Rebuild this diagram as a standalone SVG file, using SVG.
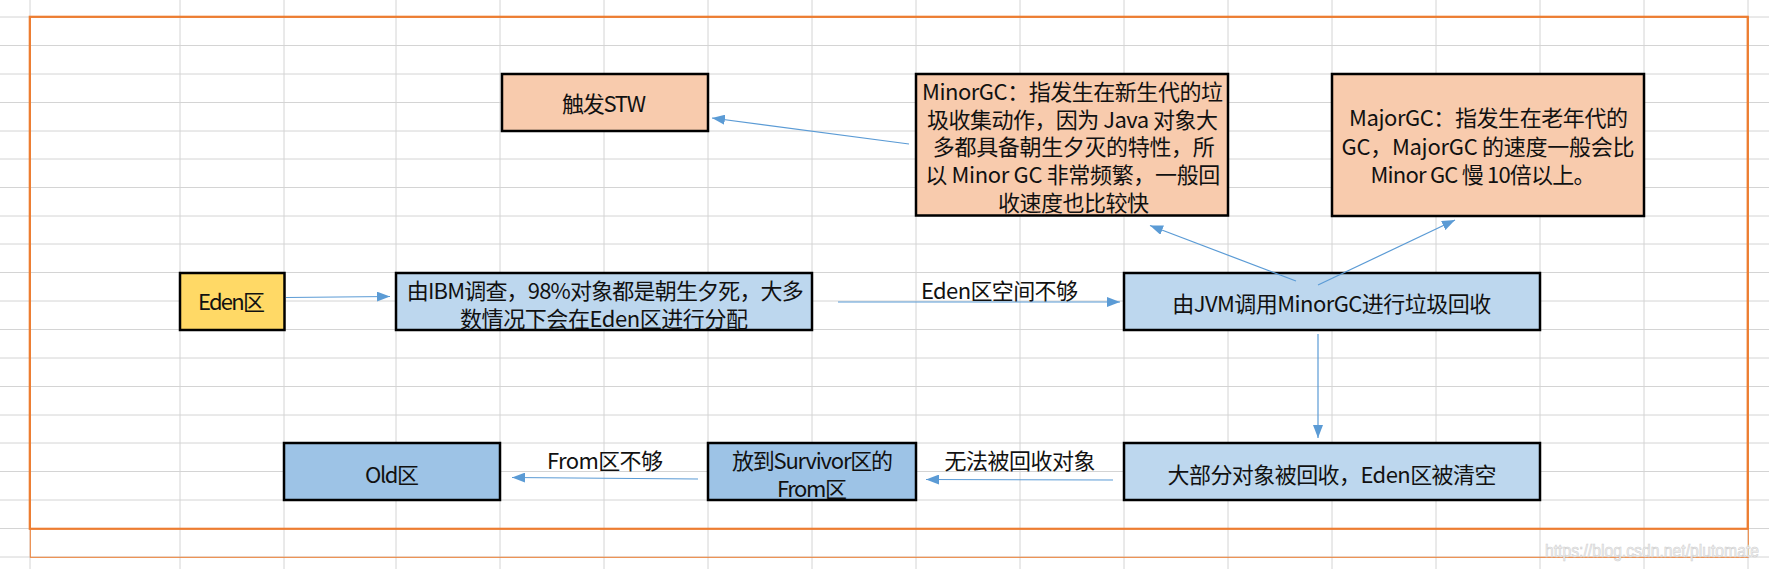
<svg xmlns="http://www.w3.org/2000/svg" width="1769" height="569" viewBox="0 0 1769 569">
<defs>
<style>
.grid line{stroke:#d4d4d4;stroke-width:1}
.box{stroke:#000;stroke-width:2.5}
.peach{fill:#F8CBAD}
.lblue{fill:#BDD7EE}
.mblue{fill:#9DC3E6}
.gold{fill:#FFD966}
.t{font-family:"Noto Sans CJK SC","Noto Sans",sans-serif;font-size:22px;fill:#111;text-anchor:middle}
.conn line{stroke:#5B9BD5;stroke-width:1.2;fill:none;marker-end:url(#ah)}
</style>
<marker id="ah" viewBox="0 0 13 10" refX="13" refY="5" markerWidth="13" markerHeight="10" markerUnits="userSpaceOnUse" orient="auto">
<path d="M0,0 L13,5 L0,10 z" fill="#5B9BD5"/>
</marker>
</defs>
<rect width="1769" height="569" fill="#fff"/>
<g class="grid">
<line x1="30" y1="0" x2="30" y2="569"/><line x1="180" y1="0" x2="180" y2="569"/><line x1="284" y1="0" x2="284" y2="569"/><line x1="396" y1="0" x2="396" y2="569"/><line x1="500" y1="0" x2="500" y2="569"/><line x1="604" y1="0" x2="604" y2="569"/><line x1="708" y1="0" x2="708" y2="569"/><line x1="812" y1="0" x2="812" y2="569"/><line x1="916" y1="0" x2="916" y2="569"/><line x1="1020" y1="0" x2="1020" y2="569"/><line x1="1124" y1="0" x2="1124" y2="569"/><line x1="1228" y1="0" x2="1228" y2="569"/><line x1="1332" y1="0" x2="1332" y2="569"/><line x1="1436" y1="0" x2="1436" y2="569"/><line x1="1540" y1="0" x2="1540" y2="569"/><line x1="1644" y1="0" x2="1644" y2="569"/><line x1="1748" y1="0" x2="1748" y2="569"/>
<line x1="0" y1="17" x2="1769" y2="17"/><line x1="0" y1="45.5" x2="1769" y2="45.5"/><line x1="0" y1="74" x2="1769" y2="74"/><line x1="0" y1="102.5" x2="1769" y2="102.5"/><line x1="0" y1="131" x2="1769" y2="131"/><line x1="0" y1="159" x2="1769" y2="159"/><line x1="0" y1="187.5" x2="1769" y2="187.5"/><line x1="0" y1="216" x2="1769" y2="216"/><line x1="0" y1="244" x2="1769" y2="244"/><line x1="0" y1="272.5" x2="1769" y2="272.5"/><line x1="0" y1="301" x2="1769" y2="301"/><line x1="0" y1="329.5" x2="1769" y2="329.5"/><line x1="0" y1="358" x2="1769" y2="358"/><line x1="0" y1="386.5" x2="1769" y2="386.5"/><line x1="0" y1="415" x2="1769" y2="415"/><line x1="0" y1="443" x2="1769" y2="443"/><line x1="0" y1="471.5" x2="1769" y2="471.5"/><line x1="0" y1="500" x2="1769" y2="500"/><line x1="0" y1="528.5" x2="1769" y2="528.5"/><line x1="0" y1="557" x2="1769" y2="557"/>
</g>
<g id="frame" fill="none">
<rect x="30.3" y="17" width="1718" height="540.3" stroke="#ED7D31" stroke-width="1"/>
<rect x="29.8" y="16.8" width="1717.9" height="512" stroke="#ED7D31" stroke-width="2.2"/>
</g>
<g id="stw"><rect class="box peach" x="502" y="74" width="206" height="57"/><text class="t" x="604" y="112" textLength="84">触发STW</text></g>
<g id="minorgc"><rect class="box peach" x="916" y="74" width="312" height="141.5"/>
<text class="t" x="1072.5" y="100" textLength="301">MinorGC：指发生在新生代的垃</text>
<text class="t" x="1072.5" y="127.7" textLength="291">圾收集动作，因为 Java 对象大</text>
<text class="t" x="1073.8" y="155.4" textLength="282">多都具备朝生夕灭的特性，所</text>
<text class="t" x="1072.8" y="183.1" textLength="295">以 Minor GC 非常频繁，一般回</text>
<text class="t" x="1073.5" y="210.8" textLength="151">收速度也比较快</text></g>
<g id="majorgc"><rect class="box peach" x="1332" y="74" width="312" height="142"/>
<text class="t" x="1488.5" y="126" textLength="279">MajorGC：指发生在老年代的</text>
<text class="t" x="1488" y="154.5" textLength="293">GC，MajorGC 的速度一般会比</text>
<text class="t" x="1483" y="183" textLength="225">Minor GC 慢 10倍以上。</text></g>
<g id="eden"><rect class="box gold" x="180" y="273" width="104.5" height="57"/><text class="t" x="231.5" y="310" textLength="67">Eden区</text></g>
<g id="ibm"><rect class="box lblue" x="396" y="273" width="416" height="57"/>
<text class="t" x="605.3" y="299" textLength="397">由IBM调查，98%对象都是朝生夕死，大多</text>
<text class="t" x="604" y="326.5" textLength="288">数情况下会在Eden区进行分配</text></g>
<g id="jvm"><rect class="box lblue" x="1124" y="273" width="416" height="57"/><text class="t" x="1331.7" y="312" textLength="319">由JVM调用MinorGC进行垃圾回收</text></g>
<g id="clear"><rect class="box lblue" x="1124" y="443" width="416" height="57"/><text class="t" x="1332" y="483" textLength="329">大部分对象被回收，Eden区被清空</text></g>
<g id="survivor"><rect class="box mblue" x="708" y="443" width="208" height="57"/>
<text class="t" x="812.5" y="468.5" textLength="161">放到Survivor区的</text>
<text class="t" x="812" y="497" textLength="70">From区</text></g>
<g id="old"><rect class="box mblue" x="284" y="443" width="216" height="57"/><text class="t" x="392" y="483" textLength="54">Old区</text></g>
<g id="connectors" class="conn">
<line x1="286" y1="297.5" x2="390" y2="296.5"/>
<line x1="838" y1="302" x2="1120" y2="302"/>
<line x1="909" y1="144" x2="712" y2="118"/>
<line x1="1296" y1="281" x2="1150" y2="225.5"/>
<line x1="1318" y1="285" x2="1455" y2="220"/>
<line x1="1318" y1="334" x2="1318" y2="438"/>
<line x1="1113" y1="480" x2="926" y2="479.5"/>
<line x1="698" y1="479" x2="512" y2="477.5"/>
</g>
<g id="labels">
<text class="t" x="999.5" y="299" textLength="157">Eden区空间不够</text>
<text class="t" x="1020" y="468.5" textLength="151">无法被回收对象</text>
<text class="t" x="605" y="468.5" textLength="116">From区不够</text>
</g>
<text x="1545" y="557" font-family="Liberation Sans,Arial,sans-serif" font-size="18" textLength="214" lengthAdjust="spacingAndGlyphs" fill="#f2f2f2" stroke="#cfcfcf" stroke-width="0.6">https://blog.csdn.net/plutomate</text>
</svg>
